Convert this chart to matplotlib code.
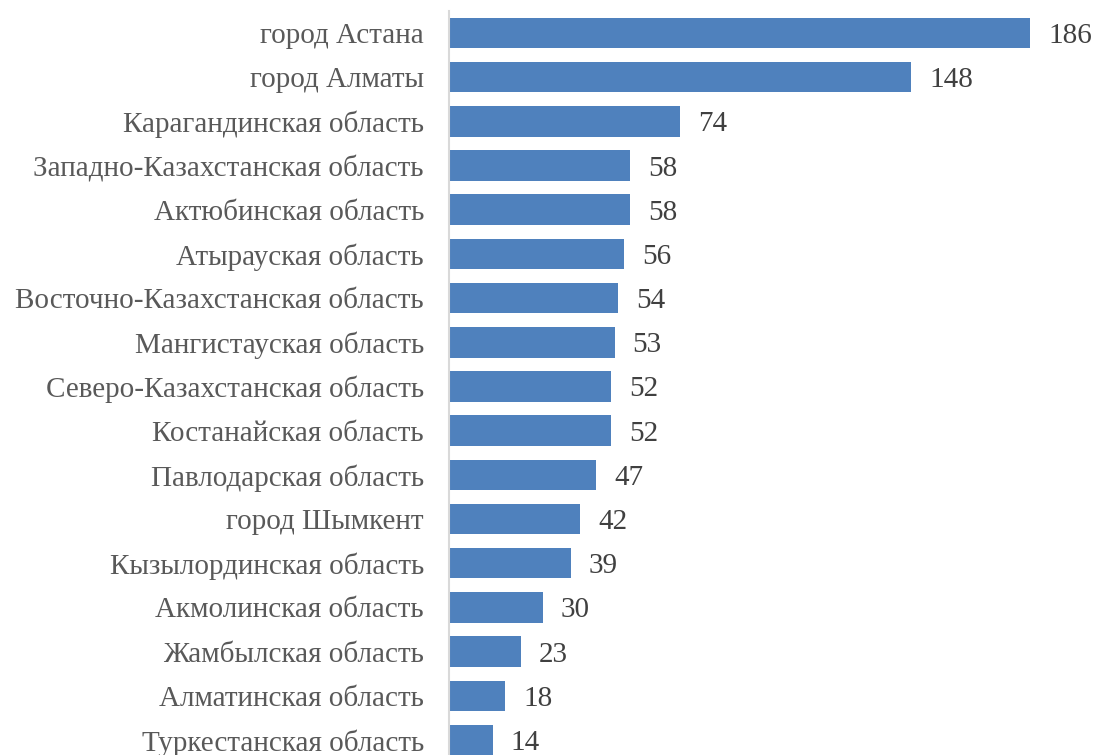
import matplotlib
matplotlib.use('Agg')
import matplotlib.pyplot as plt

regions = [
    'город Астана',
    'город Алматы',
    'Карагандинская область',
    'Западно-Казахстанская область',
    'Актюбинская область',
    'Атырауская область',
    'Восточно-Казахстанская область',
    'Мангистауская область',
    'Северо-Казахстанская область',
    'Костанайская область',
    'Павлодарская область',
    'город Шымкент',
    'Кызылординская область',
    'Акмолинская область',
    'Жамбылская область',
    'Алматинская область',
    'Туркестанская область',
]
counts = [186, 148, 74, 58, 58, 56, 54, 53, 52, 52, 47, 42, 39, 30, 23, 18, 14]

plt.rcParams['font.family'] = ['Liberation Serif', 'DejaVu Serif']

fig = plt.figure(figsize=(10.94, 7.55), dpi=100)
ax = fig.add_axes([0.4104, -0.0094, 0.5713, 0.995])

ind = range(len(regions))
bars = ax.barh(ind, counts, height=0.69, color='#4F81BD')
ax.set_ylim(len(regions) - 0.5, -0.5)
ax.set_xlim(0, 200)
ax.set_yticks(list(ind))
ax.set_yticklabels(regions, fontsize=21, color='#595959', va='center_baseline')
ax.tick_params(axis='y', length=0, pad=18)
ax.set_xticks([])

for s in ['top', 'right', 'bottom']:
    ax.spines[s].set_visible(False)
ax.spines['left'].set_color('#D9D9D9')
ax.spines['left'].set_linewidth(1.5)

for b, v in zip(bars, counts):
    ax.annotate(str(v), (b.get_width(), b.get_y() + b.get_height() / 2),
                xytext=(13, 0), textcoords='offset points',
                va='center_baseline', ha='left', fontsize=21, color='#404040',
                annotation_clip=False)

fig.savefig('out.png', dpi=100)
